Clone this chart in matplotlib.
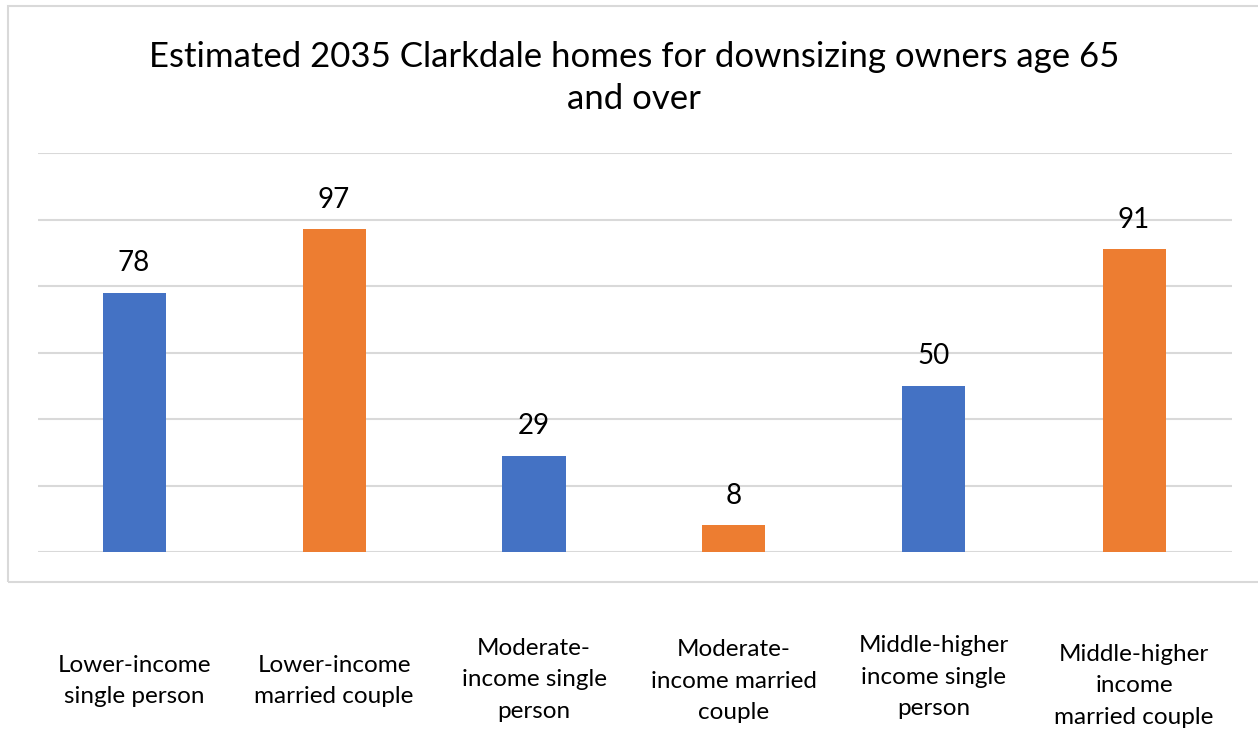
import matplotlib
matplotlib.use("Agg")
import matplotlib.pyplot as plt
import matplotlib.transforms as mtransforms
from matplotlib.patches import Rectangle

categories = [
    "Lower-income\nsingle person",
    "Lower-income\nmarried couple",
    "Moderate-\nincome single\nperson",
    "Moderate-\nincome married\ncouple",
    "Middle-higher\nincome single\nperson",
    "Middle-higher\nincome\nmarried couple",
]
values = [78, 97, 29, 8, 50, 91]
colors = ["#4472C4", "#ED7D31", "#4472C4", "#ED7D31", "#4472C4", "#ED7D31"]
title = "Estimated 2035 Clarkdale homes for downsizing owners age 65\nand over"

plt.rcParams["font.family"] = ["Lato", "DejaVu Sans"]

W, H = 1258, 729
fig = plt.figure(figsize=(W / 100, H / 100), dpi=100)

# chart frame (light gray border, runs off the right edge)
fig.patches.append(Rectangle((8 / W, 1 - 582 / H), 1.2, (582 - 6) / H,
                             transform=fig.transFigure, fill=False,
                             edgecolor="#d9d9d9", lw=1.5))

ax = fig.add_axes([38 / W, 1 - 552 / H, (1232 - 38) / W, (552 - 153) / H])
x = list(range(len(values)))
ax.bar(x, values, width=0.315, color=colors, zorder=3)
ax.set_xlim(-0.48, len(values) - 0.51)
ax.set_ylim(0, 120)
ax.set_yticks(range(0, 121, 20))
ax.yaxis.grid(True, color="#d9d9d9", lw=1.5, zorder=0)
ax.tick_params(left=False, bottom=False, labelleft=False, labelbottom=False)
for s in ax.spines.values():
    s.set_visible(False)

for xi, v in zip(x, values):
    ax.annotate(str(v), (xi, v), xytext=(0, 12), textcoords="offset points",
                ha="center", va="bottom", fontsize=20)

# category labels sit under the frame, not all at the same height
label_y = [681, 681, 680, 681, 677, 686]
trans = mtransforms.blended_transform_factory(ax.transData, fig.transFigure)
for xi, lab, yy in zip(x, categories, label_y):
    ax.text(xi, 1 - yy / H, lab, transform=trans, ha="center", va="center",
            fontsize=17.5, linespacing=1.6)

fig.text(634 / W, 1 - 78 / H, title, ha="center", va="center",
         fontsize=25, linespacing=1.38)

fig.savefig("out.png", dpi=100)
